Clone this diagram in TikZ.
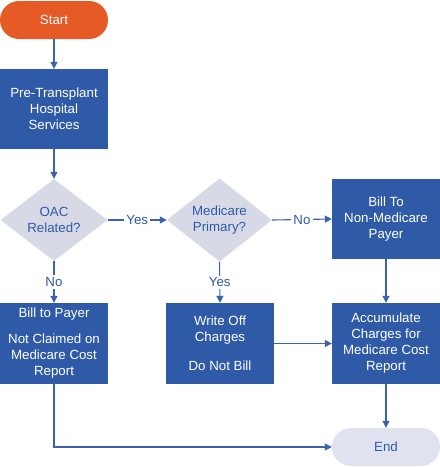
\documentclass[tikz,border=0pt]{standalone}
\usepackage{fontspec}
\setmainfont{Liberation Sans}
\usetikzlibrary{shapes.geometric,arrows.meta}
\definecolor{boxblue}{HTML}{2F5AA8}
\definecolor{lineblue}{HTML}{3A62B0}
\definecolor{startorange}{HTML}{E65A26}
\definecolor{dfill}{HTML}{D7D9E7}
\definecolor{endfill}{HTML}{E1E2EF}
\tikzset{
  base/.style={font=\fontsize{13.3}{16}\selectfont, align=center, inner sep=0pt},
  bluebox/.style={base, rectangle, fill=boxblue, text=white, minimum width=108pt, minimum height=81pt},
  decision/.style={base, diamond, fill=dfill, text=boxblue, minimum width=107pt, minimum height=82pt},
  terminal/.style={base, rectangle, rounded corners=19pt, minimum width=108pt, minimum height=38pt},
  conn/.style={draw=lineblue, line width=1.1pt, -{Triangle[length=7pt,width=7pt]}},
  lbl/.style={font=\fontsize{13.3}{16}\selectfont, text=boxblue, fill=white, inner sep=2pt}
}
\begin{document}
\begin{tikzpicture}[x=1pt,y=-1pt]
\useasboundingbox (0,0) rectangle (440,467);
\node[terminal, fill=startorange, text=white] (start) at (54,20) {Start};
\node[bluebox, minimum height=80pt] (pre) at (54,109) {Pre-Transplant\\Hospital\\Services};
\node[decision] (oac) at (54,220) {OAC\\Related?};
\node[decision, minimum width=105pt] (medp) at (219.5,220) {Medicare\\Primary?};
\node[bluebox, minimum height=80pt] (nonmed) at (386,219) {Bill To\\Non-Medicare\\Payer};
\node[bluebox] (payer) at (54,343.5) {Bill to Payer\\[10pt]Not Claimed on\\Medicare Cost\\Report};
\node[bluebox] (write) at (220,343.5) {Write Off\\Charges\\[13pt]Do Not Bill};
\node[bluebox] (accum) at (386,343.5) {Accumulate\\Charges for\\Medicare Cost\\Report};
\node[terminal, fill=endfill, text=boxblue] (end) at (386,447) {End};
\draw[conn] (start) -- (pre);
\draw[conn] (pre) -- (oac);
\draw[conn] (oac.east) -- node[lbl] {Yes} (medp.west);
\draw[conn] (medp.east) -- node[lbl] {No} (nonmed.west);
\draw[conn] (oac.south) -- node[lbl] {No} (payer.north);
\draw[conn] (medp.south) -- node[lbl] {Yes} (write.north);
\draw[conn] (nonmed.south) -- (accum.north);
\draw[conn] (write.east) -- (accum.west);
\draw[conn] (accum.south) -- (end.north);
\draw[conn] (payer.south) |- (end.west);
\end{tikzpicture}
\end{document}
